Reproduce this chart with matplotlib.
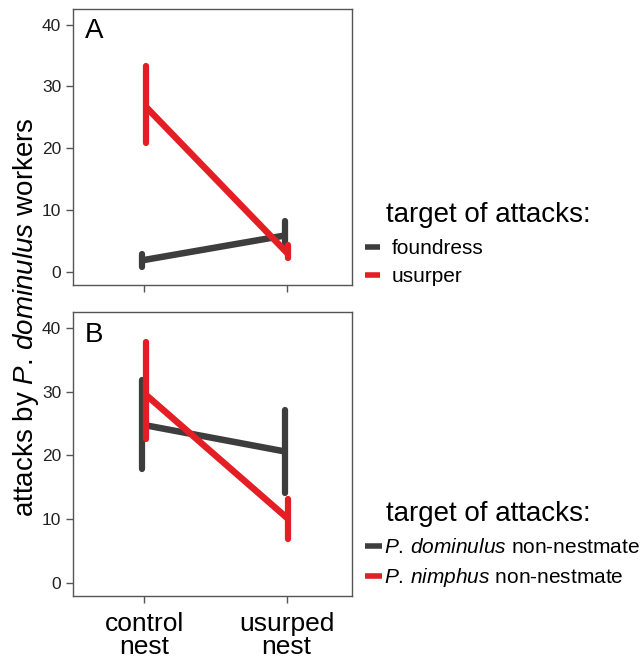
import matplotlib
matplotlib.use('Agg')
import matplotlib.pyplot as plt
from matplotlib.lines import Line2D

plt.rcParams['font.family'] = ['Liberation Sans', 'DejaVu Sans']
plt.rcParams['mathtext.fontset'] = 'custom'
plt.rcParams['mathtext.rm'] = 'Liberation Sans'
plt.rcParams['mathtext.it'] = 'Liberation Sans:italic'

nest_labels = ['control\nnest', 'usurped\nnest']

# panel A: target foundress / usurper
a_foundress_mean = [1.9, 5.9]
a_foundress_low = [0.8, 4.0]
a_foundress_high = [2.9, 8.3]
a_usurper_mean = [26.7, 2.9]
a_usurper_low = [20.9, 2.2]
a_usurper_high = [33.3, 4.3]

# panel B: P. dominulus / P. nimphus non-nestmate
b_dominulus_mean = [24.8, 20.6]
b_dominulus_low = [17.8, 14.0]
b_dominulus_high = [31.8, 27.1]
b_nimphus_mean = [29.5, 10.0]
b_nimphus_low = [22.5, 6.9]
b_nimphus_high = [37.8, 13.1]

yticks = [0, 10, 20, 30, 40]

GREY = '#3d3d3d'
RED = '#e31e24'
SPINE = '#555555'


def draw_series(ax, mean, low, high, color, shift):
    xs = [i + shift for i in range(len(mean))]
    ax.plot(xs, mean, color=color, lw=4.7, solid_capstyle='butt', zorder=3)
    for x, lo, hi in zip(xs, low, high):
        ax.plot([x, x], [lo, hi], color=color, lw=4.5, solid_capstyle='round', zorder=3)


def style_axes(ax, letter, show_xlabels):
    ax.set_xlim(-0.5, 1.46)
    ax.set_ylim(-2.1, 42.5)
    ax.set_yticks(yticks)
    ax.set_xticks([0, 1])
    if show_xlabels:
        ax.set_xticklabels(nest_labels, fontsize=19, linespacing=0.95)
    else:
        ax.set_xticklabels([])
    ax.tick_params(axis='y', labelsize=12.5, colors=SPINE, labelcolor='#222222', length=5, width=1)
    ax.tick_params(axis='x', colors=SPINE, labelcolor='black', length=5, width=1, pad=6.5)
    for s in ax.spines.values():
        s.set_color(SPINE)
        s.set_linewidth(1.0)
    ax.text(0.043, 0.966, letter, transform=ax.transAxes, fontsize=20, va='top', ha='left')


fig = plt.figure(figsize=(6.42, 6.61), dpi=100)
ax_a = fig.add_axes([0.1137, 0.5688, 0.4346, 0.4175])
ax_b = fig.add_axes([0.1137, 0.0983, 0.4346, 0.4297])

draw_series(ax_a, a_foundress_mean, a_foundress_low, a_foundress_high, GREY, -0.012)
draw_series(ax_a, a_usurper_mean, a_usurper_low, a_usurper_high, RED, 0.012)
style_axes(ax_a, 'A', False)

draw_series(ax_b, b_dominulus_mean, b_dominulus_low, b_dominulus_high, GREY, -0.012)
draw_series(ax_b, b_nimphus_mean, b_nimphus_low, b_nimphus_high, RED, 0.012)
style_axes(ax_b, 'B', True)

fig.text(0.040, 0.520, 'attacks by $\\mathit{P.\\,dominulus}$ workers', rotation=90,
         fontsize=20, ha='center', va='center')

# legends
fig.text(386 / 642, 1 - 222 / 661, 'target of attacks:', fontsize=20, ha='left', va='baseline')
h_a = [Line2D([], [], color=GREY, lw=4.0, solid_capstyle='butt'),
       Line2D([], [], color=RED, lw=4.0, solid_capstyle='butt')]
fig.legend(h_a, ['foundress', 'usurper'], loc='upper left',
           bbox_to_anchor=(365 / 642, 1 - 239 / 661), frameon=False, fontsize=15,
           handlelength=0.72, handletextpad=0.56, labelspacing=0.44, borderpad=0, borderaxespad=0)

fig.text(386 / 642, 1 - 521 / 661, 'target of attacks:', fontsize=20, ha='left', va='baseline')
h_b = [Line2D([], [], color=GREY, lw=4.0, solid_capstyle='butt'),
       Line2D([], [], color=RED, lw=4.0, solid_capstyle='butt')]
fig.legend(h_b, ['$\\mathit{P.\\,dominulus}$ non-nestmate', '$\\mathit{P.\\,nimphus}$ non-nestmate'],
           loc='upper left', bbox_to_anchor=(365 / 642, 1 - 538 / 661), frameon=False, fontsize=15,
           handlelength=0.8, handletextpad=0.1, labelspacing=0.44, borderpad=0, borderaxespad=0)

fig.savefig('out.png', dpi=100)
